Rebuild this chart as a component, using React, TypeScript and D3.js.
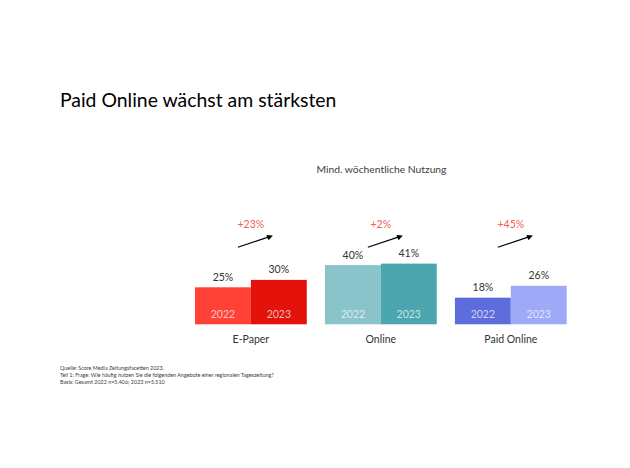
import * as d3 from "d3";
import React from "react";

const categories = ["E-Paper", "Online", "Paid Online"];
const years = ["2022", "2023"];
const values2022 = [25, 40, 18];
const values2023 = [30, 41, 26];
const growthLabels = ["+23%", "+2%", "+45%"];
const barColors = [
  ["#FF4136", "#E3120B"],
  ["#8AC4CB", "#4BA6AF"],
  ["#5D6DDB", "#9EA9F7"],
];
const footnotes = [
  "Quelle: Score Media Zeitungsfacetten 2023.",
  "Teil 1: Frage: Wie häufig nutzen Sie die folgenden Angebote einer regionalen Tageszeitung?",
  "Basis: Gesamt 2022 n=5.406; 2023 n=5.510",
];

const W = 630;
const H = 468;
const font = "Lato, 'Open Sans', sans-serif";

const App: React.FC = () => {
  const x = d3.scaleBand<string>().domain(categories).range([195, 566.7]).paddingInner(0.14);
  const xi = d3.scaleBand<string>().domain(years).range([0, x.bandwidth()]);
  const y = d3.scaleLinear().domain([0, 100]).range([324.3, 176.3]);

  return (
    <svg
      width={W}
      height={H}
      style={{ position: "absolute", left: 0, top: 0, background: "#fff" }}
      fontFamily={font}
    >
      <text x={60} y={107} fontSize={19.4} fill="#000">
        Paid Online wächst am stärksten
      </text>
      <text x={381.5} y={173} fontSize={10.3} fill="#404040" textAnchor="middle">
        Mind. wöchentliche Nutzung
      </text>

      {categories.map((c, i) => {
        const x0 = x(c) ?? 0;
        const cx = x0 + x.bandwidth() / 2;
        const vals = [values2022[i], values2023[i]];
        return (
          <g key={c}>
            <text x={cx} y={228} fontSize={10.5} fill="#F0605A" textAnchor="middle">
              {growthLabels[i]}
            </text>
            <line
              x1={cx - 13}
              y1={247.3}
              x2={cx + 18}
              y2={236.9}
              stroke="#000"
              strokeWidth={1.2}
            />
            <path d={`M${cx + 22},${235.4} l-6.5,-0.3 l2.2,5.2 Z`} fill="#000" />
            {years.map((yr, j) => {
              const bx = x0 + (xi(yr) ?? 0);
              const top = y(vals[j]);
              return (
                <g key={yr}>
                  <rect
                    x={bx}
                    y={top}
                    width={xi.bandwidth()}
                    height={y(0) - top}
                    fill={barColors[i][j]}
                  />
                  <text
                    x={bx + xi.bandwidth() / 2}
                    y={318}
                    fontSize={10.5}
                    fill="#fff"
                    fillOpacity={0.7}
                    textAnchor="middle"
                  >
                    {yr}
                  </text>
                  <text
                    x={bx + xi.bandwidth() / 2}
                    y={top - 6.5}
                    fontSize={10.5}
                    fill="#333"
                    textAnchor="middle"
                  >
                    {vals[j]}%
                  </text>
                </g>
              );
            })}
            <text x={cx} y={342.5} fontSize={10.5} fill="#333" textAnchor="middle">
              {c}
            </text>
          </g>
        );
      })}

      {footnotes.map((f, k) => (
        <text key={k} x={60} y={369.5 + k * 7.2} fontSize={5.4} fill="#404040">
          {f}
        </text>
      ))}
    </svg>
  );
};

export default App;
